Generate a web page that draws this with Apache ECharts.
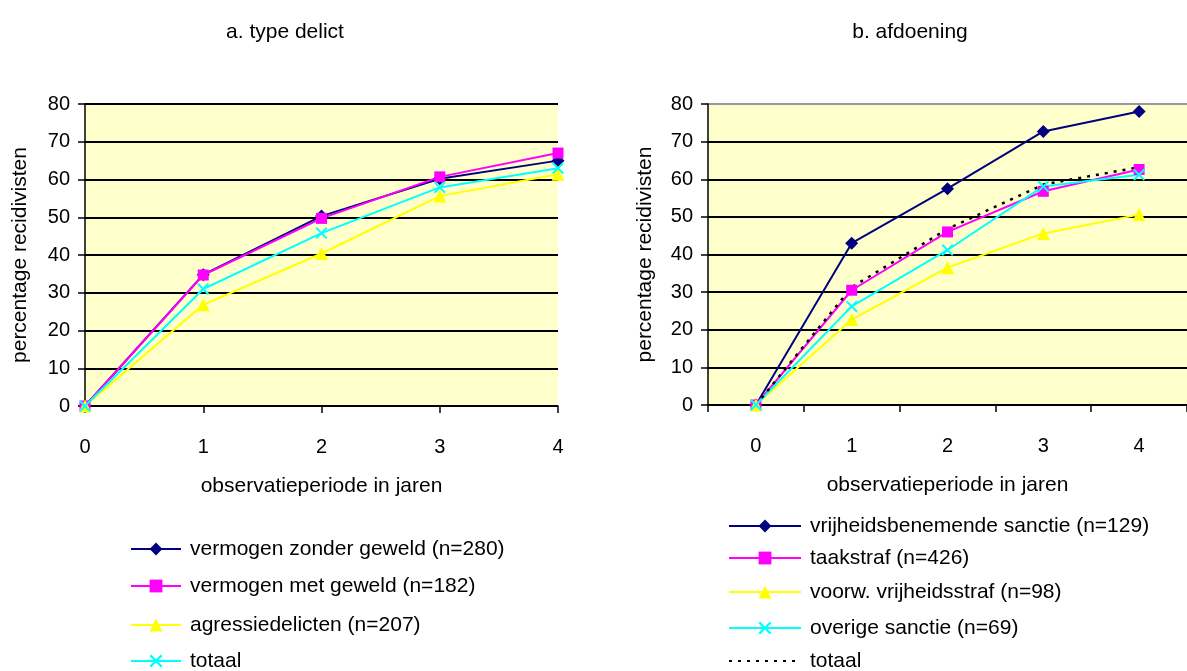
<!DOCTYPE html>
<html>
<head>
<meta charset="utf-8">
<script src="https://cdn.jsdelivr.net/npm/echarts@6/dist/echarts.min.js"></script>
<style>
html,body{margin:0;padding:0;background:#fff;}
#chart{width:1187px;height:671px;}
</style>
</head>
<body>
<div id="chart"></div>
<script>
// ---- data ----
const years = ['0', '1', '2', '3', '4'];
const yTicks = [0, 10, 20, 30, 40, 50, 60, 70, 80];

const titleA = 'a. type delict';
const titleB = 'b. afdoening';
const yName = 'percentage recidivisten';
const xName = 'observatieperiode in jaren';

const namesA = ['vermogen zonder geweld (n=280)', 'vermogen met geweld (n=182)', 'agressiedelicten (n=207)', 'totaal'];
const vzg = [0, 34.8, 50.3, 60.2, 65.0];
const vmg = [0, 34.7, 49.7, 60.7, 67.0];
const agr = [0, 26.8, 40.4, 55.6, 61.4];
const totA = [0, 31.0, 45.8, 57.9, 63.0];

const namesB = ['vrijheidsbenemende sanctie (n=129)', 'taakstraf (n=426)', 'voorw. vrijheidsstraf (n=98)', 'overige sanctie (n=69)', 'totaal'];
const vrij = [0, 43.0, 57.5, 72.7, 78.0];
const taak = [0, 30.5, 46.0, 56.8, 62.6];
const voorw = [0, 22.7, 36.5, 45.6, 50.6];
const overig = [0, 26.2, 41.2, 58.1, 61.2];
const totB = [0, 31.3, 46.8, 58.6, 63.2];

// ---- styles ----
const FONT = 'Liberation Sans';
const FS = 20;
const FS_TEXT = 21;
const crossPath = 'path://M0,1.2 L1.2,0 L5,3.8 L8.8,0 L10,1.2 L6.2,5 L10,8.8 L8.8,10 L5,6.2 L1.2,10 L0,8.8 L3.8,5 Z';
const markers = [
  {symbol: 'diamond', size: 13, color: '#000080'},
  {symbol: 'rect', size: 11, color: '#FF00FF'},
  {symbol: 'triangle', size: 13, color: '#FFFF00'},
  {symbol: crossPath, size: 12, color: '#00FFFF'}
];

function lineSeries(name, data, m, idx) {
  return {
    type: 'line', name: name, data: data,
    xAxisIndex: idx, yAxisIndex: idx,
    symbol: m.symbol, symbolSize: m.size, showSymbol: true,
    lineStyle: {color: m.color, width: 2},
    itemStyle: {color: m.color, borderWidth: 0},
    emphasis: {disabled: true},
    animation: false
  };
}

function yAxis(idx, gridIdx, topGray) {
  const colors = yTicks.map((t, i) => (topGray && i === yTicks.length - 1) ? '#999999' : '#000000');
  return {
    type: 'value', gridIndex: gridIdx, min: 0, max: 80, interval: 10,
    name: yName, nameLocation: 'middle', nameGap: idx === 0 ? 54 : 52,
    nameTextStyle: {fontFamily: FONT, fontSize: FS_TEXT, color: '#000'},
    axisLine: {show: true, lineStyle: {color: '#000', width: 1.5}},
    axisTick: {show: true, length: 7, lineStyle: {color: '#000', width: 1.5}},
    axisLabel: {fontFamily: FONT, fontSize: FS, color: '#000', margin: 15},
    splitLine: {show: true, lineStyle: {color: colors, width: 2}}
  };
}

function xAxis(idx, boundaryGap) {
  return {
    type: 'category', gridIndex: idx, data: years, boundaryGap: boundaryGap,
    name: xName, nameLocation: 'middle', nameGap: 70,
    nameTextStyle: {fontFamily: FONT, fontSize: FS_TEXT, color: '#000'},
    axisLine: {show: true, onZero: false, lineStyle: {color: '#000', width: 1.5}},
    axisTick: {show: true, length: 7, alignWithLabel: false, lineStyle: {color: '#000', width: 1.5}},
    axisLabel: {fontFamily: FONT, fontSize: FS, color: '#000', margin: 31},
    splitLine: {show: false}
  };
}

const namesBKeyed = namesB.map((n, i) => i === 4 ? 'totaal ' : n);

const series = [
  lineSeries(namesA[0], vzg, markers[0], 0),
  lineSeries(namesA[1], vmg, markers[1], 0),
  lineSeries(namesA[2], agr, markers[2], 0),
  lineSeries(namesA[3], totA, markers[3], 0),
  lineSeries(namesBKeyed[0], vrij, markers[0], 1),
  lineSeries(namesBKeyed[1], taak, markers[1], 1),
  lineSeries(namesBKeyed[2], voorw, markers[2], 1),
  lineSeries(namesBKeyed[3], overig, markers[3], 1),
  {
    type: 'line', name: namesBKeyed[4], data: totB,
    xAxisIndex: 1, yAxisIndex: 1, symbol: 'circle', showSymbol: false, symbolSize: 0,
    lineStyle: {color: '#000', width: 2.5, type: [3, 6]},
    itemStyle: {color: 'rgba(0,0,0,0)'},
    emphasis: {disabled: true}, animation: false
  }
];

// legend row layout (centers in px)
const rowsA = [549, 586, 625, 661];
const rowsB = [526, 558, 592, 628, 661];
const legends = [];
namesA.forEach((n, i) => legends.push({
  orient: 'vertical', left: 130, top: rowsA[i] - 11, itemWidth: 50, itemHeight: 16, itemGap: 10,
  data: [n], selectedMode: false, padding: 0,
  textStyle: {fontFamily: FONT, fontSize: FS_TEXT, color: '#000', lineHeight: 22, padding: [0, 0, 0, 4]}
}));
namesBKeyed.forEach((n, i) => legends.push({
  orient: 'vertical', left: 728, top: rowsB[i] - 11, itemWidth: 72, itemHeight: 16, itemGap: 10,
  data: [n], selectedMode: false, padding: 0,
  textStyle: {fontFamily: FONT, fontSize: FS_TEXT, color: '#000', lineHeight: 22, padding: [0, 0, 0, 4]}
}));

const chart = echarts.init(document.getElementById('chart'), null, {renderer: 'canvas'});
chart.setOption({
  backgroundColor: '#ffffff',
  animation: false,
  title: [
    {text: titleA, left: 280, top: 17, textAlign: 'center',
     textStyle: {fontFamily: FONT, fontSize: FS_TEXT, fontWeight: 'normal', color: '#000'}},
    {text: titleB, left: 905, top: 17, textAlign: 'center',
     textStyle: {fontFamily: FONT, fontSize: FS_TEXT, fontWeight: 'normal', color: '#000'}}
  ],
  grid: [
    {left: 85, top: 104, width: 473, height: 302, show: true, backgroundColor: '#FFFFCC', borderWidth: 0},
    {left: 708, top: 104, width: 483, height: 301, show: true, backgroundColor: '#FFFFCC', borderWidth: 0}
  ],
  xAxis: [xAxis(0, false), xAxis(1, true)],
  yAxis: [yAxis(0, 0, false), yAxis(1, 1, true)],
  legend: legends,
  series: series
});
</script>
</body>
</html>
